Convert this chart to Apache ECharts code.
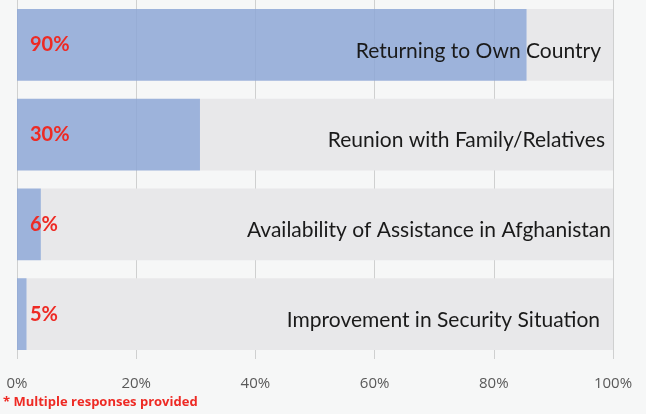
<!DOCTYPE html>
<html>
<head>
<meta charset="utf-8">
<script src="https://cdn.jsdelivr.net/npm/echarts@6/dist/echarts.min.js"></script>
<style>
  html, body { margin: 0; padding: 0; background: #f6f7f7; }
  #main { width: 646px; height: 414px; }
</style>
</head>
<body>
<div id="main"></div>
<script>
// reasons for return, top to bottom
var categories = ['Returning to Own Country', 'Reunion with Family/Relatives',
                  'Availability of Assistance in Afghanistan', 'Improvement in Security Situation'];
// bar lengths as drawn (percent of axis)
var barValues = [85.5, 30.7, 4.0, 1.6];
// printed labels on the bars
var pctLabels = ['90%', '30%', '6%', '5%'];
var xTicks = ['0%', '20%', '40%', '60%', '80%', '100%'];

var restValues = barValues.map(function (v) { return 100 - v; });

// the source labels don't share a right edge exactly
var labelRightPad = [10, 6, 0, 11];

var myChart = echarts.init(document.getElementById('main'));

var option = {
    backgroundColor: '#f6f7f7',
    textStyle: { fontFamily: 'Lato' },
    grid: { left: 17, right: 33, top: 0, bottom: 55 },
    xAxis: {
        type: 'value',
        min: 0,
        max: 100,
        interval: 20,
        axisLine: { show: false },
        axisTick: { show: false },
        splitLine: { show: true, lineStyle: { color: '#cfd0d0', width: 1 } },
        axisLabel: {
            margin: 17,
            fontSize: 15,
            fontFamily: 'Open Sans',
            color: '#595959',
            formatter: function (v) { return xTicks[v / 20]; }
        }
    },
    yAxis: [{
        type: 'category',
        data: categories,
        inverse: true,
        position: 'right',
        z: 10,
        axisLine: { show: false },
        axisTick: { show: false },
        axisLabel: {
            inside: true,
            margin: 2,
            color: '#1a1a1a',
            formatter: function (v, i) { return '{r' + i + '|' + v + '}'; },
            rich: {
                r0: { fontSize: 21, padding: [12, labelRightPad[0], 0, 0] },
                r1: { fontSize: 21, padding: [12, labelRightPad[1], 0, 0] },
                r2: { fontSize: 21, padding: [12, labelRightPad[2], 0, 0] },
                r3: { fontSize: 21, padding: [12, labelRightPad[3], 0, 0] }
            }
        }
    }],
    series: [
        {
            name: 'share',
            type: 'bar',
            stack: 'all',
            barCategoryGap: '20%',
            data: barValues,
            itemStyle: { color: 'rgba(141,167,214,0.85)' },
            label: {
                show: true,
                position: 'insideLeft',
                distance: 13,
                fontSize: 20,
                fontWeight: 'bold',
                color: '#ee2a24',
                formatter: function (p) { return pctLabels[p.dataIndex]; }
            },
            z: 3
        },
        {
            name: 'rest',
            type: 'bar',
            stack: 'all',
            data: restValues,
            itemStyle: { color: '#e8e8ea' },
            silent: true,
            z: 2
        }
    ],
    graphic: [{
        type: 'text',
        left: 3,
        top: 396,
        style: {
            text: '* Multiple responses provided',
            font: 'bold 13px "Open Sans"',
            fill: '#ee2a24'
        }
    }]
};

myChart.setOption(option);
</script>
</body>
</html>
